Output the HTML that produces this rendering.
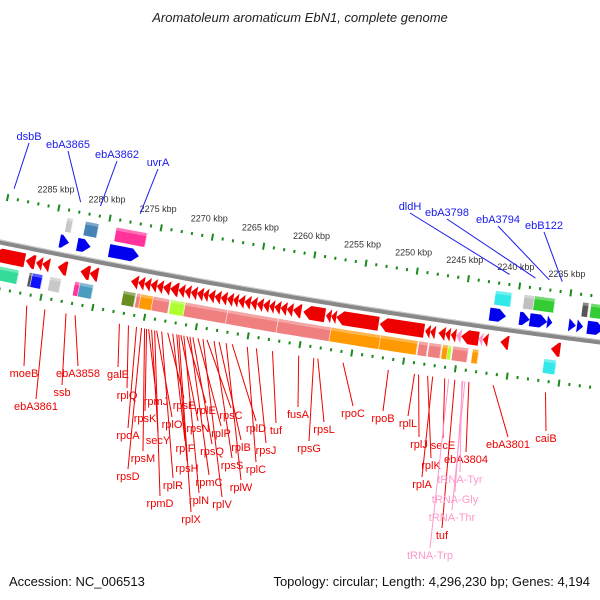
<!DOCTYPE html>
<html><head><meta charset="utf-8"><style>
html,body{margin:0;padding:0;background:#fff;}
svg{display:block;font-family:"Liberation Sans",sans-serif;}
</style></head><body>
<svg id="map" width="600" height="600" viewBox="0 0 600 600" xmlns="http://www.w3.org/2000/svg">
<text x="300" y="22" text-anchor="middle" font-size="13" font-style="italic" fill="#222">Aromatoleum aromaticum EbN1, complete genome</text>
<text x="9" y="586" font-size="13" fill="#111">Accession: NC_006513</text>
<text x="590" y="586" text-anchor="end" font-size="13" fill="#111">Topology: circular; Length: 4,296,230 bp; Genes: 4,194</text>
<g id="ticks"></g><g id="genes"></g><g id="labels"></g>
</svg>
<script>
// tick kbp values
const majorTicks = [2290,2285,2280,2275,2270,2265,2260,2255,2250,2245,2240,2235,2230];
// forward genes (top strand) [startKbp, endKbp]
const fwdGenes = [[2284.3,2283.4],[2282.6,2281.3],[2279.5,2276.6],[2242.5,2240.9],[2239.6,2238.6],[2238.6,2236.9],[2236.9,2236.4],[2234.8,2234.1],[2234.0,2233.4],[2233.0,2231.4]];
// reverse genes (bottom strand)
const revGenes = [[2290.2,2287.2],[2287.1,2286.2],[2286.1,2285.5],[2285.5,2284.8],[2284.0,2283.1],[2281.8,2280.9],[2280.9,2280.1],
[2276.9,2276.2],[2276.2,2275.6],[2275.6,2275.0],[2275.0,2274.4],[2274.4,2273.8],[2273.8,2273.1],[2273.1,2272.3],[2272.3,2271.7],[2271.7,2271.1],[2271.1,2270.5],[2270.5,2269.9],[2269.9,2269.4],[2269.4,2268.8],[2268.8,2268.2],[2268.2,2267.6],[2267.6,2267.0],[2267.0,2266.5],[2266.5,2265.9],[2265.9,2265.3],[2265.3,2264.7],[2264.7,2264.1],[2264.1,2263.5],[2263.5,2263.0],[2263.0,2262.4],[2262.4,2261.8],[2261.8,2261.2],[2261.2,2260.4],
[2260.2,2258.1],[2258.0,2257.5],[2257.5,2257.0],[2257.0,2252.9],[2252.8,2248.5],[2248.4,2247.9],[2247.9,2247.4],[2247.1,2246.45],[2246.45,2245.95],[2245.9,2245.4],[2245.4,2244.9],[2244.9,2243.2],[2243.2,2242.8],[2242.8,2242.3],[2241.1,2240.3],[2236.2,2235.3]];
const revColors = ['red','red','red','red','red','red','red','red','red','red','red','red','red','red','red','red','red','red','red','red','red','red','red','red','red','red','red','red','red','red','red','red','red','red','red','red','red','red','red','red','red','red','red','red','pink','red','pink','red','red','red'];
// COG boxes top [start,end,color]
const cogTop = [[2284.0,2283.4,'#c8c8c8'],[2282.2,2280.9,'#4682b4'],[2279.2,2276.2,'#ff3399'],[2242.2,2240.6,'#33e8e8'],[2239.4,2238.4,'#c0c0c0'],[2238.4,2236.4,'#33cc33'],[2233.7,2233.1,'#555555'],[2232.9,2231.4,'#33cc33']];
const cogBottom = [[2290.2,2287.5,'#33dd99'],[2286.5,2286.2,'#555555'],[2286.2,2285.2,'#1010ff'],[2284.5,2283.4,'#c8c8c8'],[2282.1,2281.6,'#ff3399'],[2281.6,2280.3,'#4a9cc0'],
[2277.4,2276.2,'#6b8e23'],[2276.1,2275.7,'#f08080'],[2275.7,2274.5,'#ff9900'],[2274.5,2272.9,'#f08080'],[2272.8,2271.4,'#adff2f'],[2271.4,2267.3,'#f08080'],[2267.3,2262.4,'#f08080'],[2262.4,2257.3,'#f08080'],[2257.3,2252.5,'#ff9900'],[2252.5,2248.9,'#ff9900'],[2248.8,2247.9,'#f08080'],[2247.8,2246.6,'#f08080'],[2246.5,2245.95,'#ff9900'],[2245.95,2245.6,'#adff2f'],[2245.5,2244.0,'#f08080'],[2243.6,2243.0,'#ff9900'],[2236.7,2235.5,'#33e8e8']];
// labels [text, startX, centerX, baselineY]
const blueLabels = [['dsbB',3,29,140],['ebA3865',70,68,148],['ebA3862',90,117,158],['uvrA',130,158,166],['dldH',502,410,210],['ebA3798',528,447,216],['ebA3794',542,498,223],['ebB122',555,544,229]];
const redLabels = [['moeB',38,24,377],['ebA3861',56,36,410],['ssb',77,62,396],['ebA3858',86,78,377],['galE',130,118,378],
['rplQ',139,127,399],['rpoA',147,128,439],['rpsD',152,128,480],['rpsM',155,143,462],['rpsK',157,145,422],['rpmJ',159,156,405],['secY',162,158,444],['rpmD',165,160,507],['rplO',167,172,428],['rplR',172,173,489],['rpsE',178,184,409],['rplF',183,185,452],['rpsH',187,187,472],['rplX',189,191,523],['rpsN',191,198,432],['rplN',194,199,504],['rplE',197,206,414],['rpmC',200,209,486],['rpsQ',203,212,455],['rplP',208,221,437],['rplV',213,222,508],['rpsC',217,231,419],['rpsS',224,232,469],['rplB',229,241,451],['rplW',236,241,491],['rplD',242,256,432],['rplC',257,256,473],['rpsJ',266,266,454],['tuf',282,276,434],
['fusA',308,298,418],['rpsG',323,309,452],['rpsL',327,324,433],['rpoC',352,353,417],['rpoB',397,383,422],['rplL',423,408,427],['rplJ',427,419,448],['rplK',436,431,469],['rplA',441,422,488],['secE',453,443,449],['ebA3804',477,466,463],['tuf',463,442,539],['ebA3801',501,508,448],['caiB',553,546,442]];
const pinkLabels = [['tRNA-Tyr',470,460,483],['tRNA-Gly',471,455,503],['tRNA-Thr',473,452,521],['tRNA-Trp',457,430,559]];

const NS='http://www.w3.org/2000/svg';
const B=0.2067, C=-6.67e-5, Y0=242;
function yb(x){return Y0+B*x+C*x*x;}
function nrm(x){const s=B+2*C*x;const l=Math.sqrt(1+s*s);return [-s/l,1/l];}
function pt(x,off){const n=nrm(x);return [x+off*n[0],yb(x)+off*n[1]];}
function kx(k){return 50+(2285-k)*10.3;}
function mk(tag,parent,attrs){const e=document.createElementNS(NS,tag);for(const a in attrs)e.setAttribute(a,attrs[a]);parent.appendChild(e);return e;}
const gT=document.getElementById('ticks'),gG=document.getElementById('genes'),gL=document.getElementById('labels');

// backbone
let d='';for(let x=-5;x<=605;x+=5){const p=pt(x,0);d+=(x===-5?'M':'L')+p[0].toFixed(1)+' '+p[1].toFixed(1);}
let bb=mk('path',gG,{d:d,stroke:'#888',"stroke-width":5,fill:'none'});


let d2='';for(let x=-5;x<=605;x+=5){const p=pt(x,-2);d2+=(x===-5?'M':'L')+p[0].toFixed(1)+' '+p[1].toFixed(1);}
let bh=mk('path',gG,{d:d2,stroke:'#ccc',"stroke-width":1,fill:'none'});



// ticks
majorTicks.forEach((m,i)=>{
  for(let j=0;j<5;j++){
    const k=m-j; const x=kx(k);
    if(x<-5||x>605) continue;
    const len=j===0?7:3;
    [-45,46].forEach(off=>{
      const a=pt(x,off-len/2),b=pt(x,off+len/2);
      const t=mk('line',gT,{x1:a[0],y1:a[1],x2:b[0],y2:b[1],stroke:'#1a8a1a',"stroke-width":2});
      
      
    });
  }
  const x=kx(m);
  if(x>5&&x<595){
    const p=pt(x,-61);
    const t=mk('text',gT,{x:p[0]-6,y:p[1],"text-anchor":'middle',"font-size":9,fill:'#333'});
    t.textContent=m+' kbp';
    
    
  }
});

function boxPath(x1,x2,o1,o2){
  let pts=[];const n=Math.max(1,Math.ceil((x2-x1)/10));
  for(let i=0;i<=n;i++)pts.push(pt(x1+(x2-x1)*i/n,o1));
  for(let i=n;i>=0;i--)pts.push(pt(x1+(x2-x1)*i/n,o2));
  return 'M'+pts.map(p=>p[0].toFixed(1)+' '+p[1].toFixed(1)).join('L')+'Z';
}
function drawBox(s,e,off,h,color,name){
  const x1=kx(s),x2=kx(e);
  const b=mk('path',gG,{d:boxPath(x1,x2,off-h/2,off+h/2),fill:color});
  
  
  const hl=mk('path',gG,{d:boxPath(x1,x2,off-h/2,off-h/2+3),fill:'#fff',"fill-opacity":0.3});
  
  
  if(x2-x1>2){const sep=mk('path',gG,{d:boxPath(x2-0.7,x2,off-h/2,off+h/2),fill:'#fff',"fill-opacity":0.8});
  
  }
}
function drawArrow(s,e,off,h,color,dir,name){
  const x1=kx(s),x2=kx(e);const len=x2-x1;const hl=Math.min(7,len);
  let pts;
  if(dir>0){pts=[pt(x1,off-h/2),pt(x2-hl,off-h/2),pt(x2,off),pt(x2-hl,off+h/2),pt(x1,off+h/2)];}
  else{pts=[pt(x1,off),pt(x1+hl,off-h/2),pt(x2,off-h/2),pt(x2,off+h/2),pt(x1+hl,off+h/2)];}
  const a=mk('path',gG,{d:'M'+pts.map(p=>p[0].toFixed(1)+' '+p[1].toFixed(1)).join('L')+'Z',fill:color});
  
  
}
cogTop.forEach(c=>drawBox(c[0],c[1],-30,14,c[2],'cog-box-top'));
cogBottom.forEach(c=>drawBox(c[0],c[1],31,14,c[2],'cog-box-bottom'));
fwdGenes.forEach(g=>drawArrow(g[0],g[1],-13,13,'#0000ee',1,'forward-gene'));
revGenes.forEach((g,i)=>drawArrow(g[0],g[1],13,14,revColors[i]==='pink'?'#ff99cc':'#ee0000',-1,'reverse-gene'));

function drawLabel(l,color,off,above){
  const s=pt(l[1],off);
  const ey=above?l[3]+3:l[3]-11;
  const ln=mk('line',gL,{x1:s[0],y1:s[1],x2:l[2],y2:ey,stroke:color,"stroke-width":1});
  
  
  const t=mk('text',gL,{x:l[2],y:l[3],"text-anchor":'middle',"font-size":11,fill:color});
  t.textContent=l[0];
  
  
}
blueLabels.forEach(l=>drawLabel(l,'#1a1aee',-55,true));
redLabels.forEach(l=>drawLabel(l,'#ee0000',57,false));
pinkLabels.forEach(l=>drawLabel(l,'#ff99cc',57,false));
</script>
</body></html>
